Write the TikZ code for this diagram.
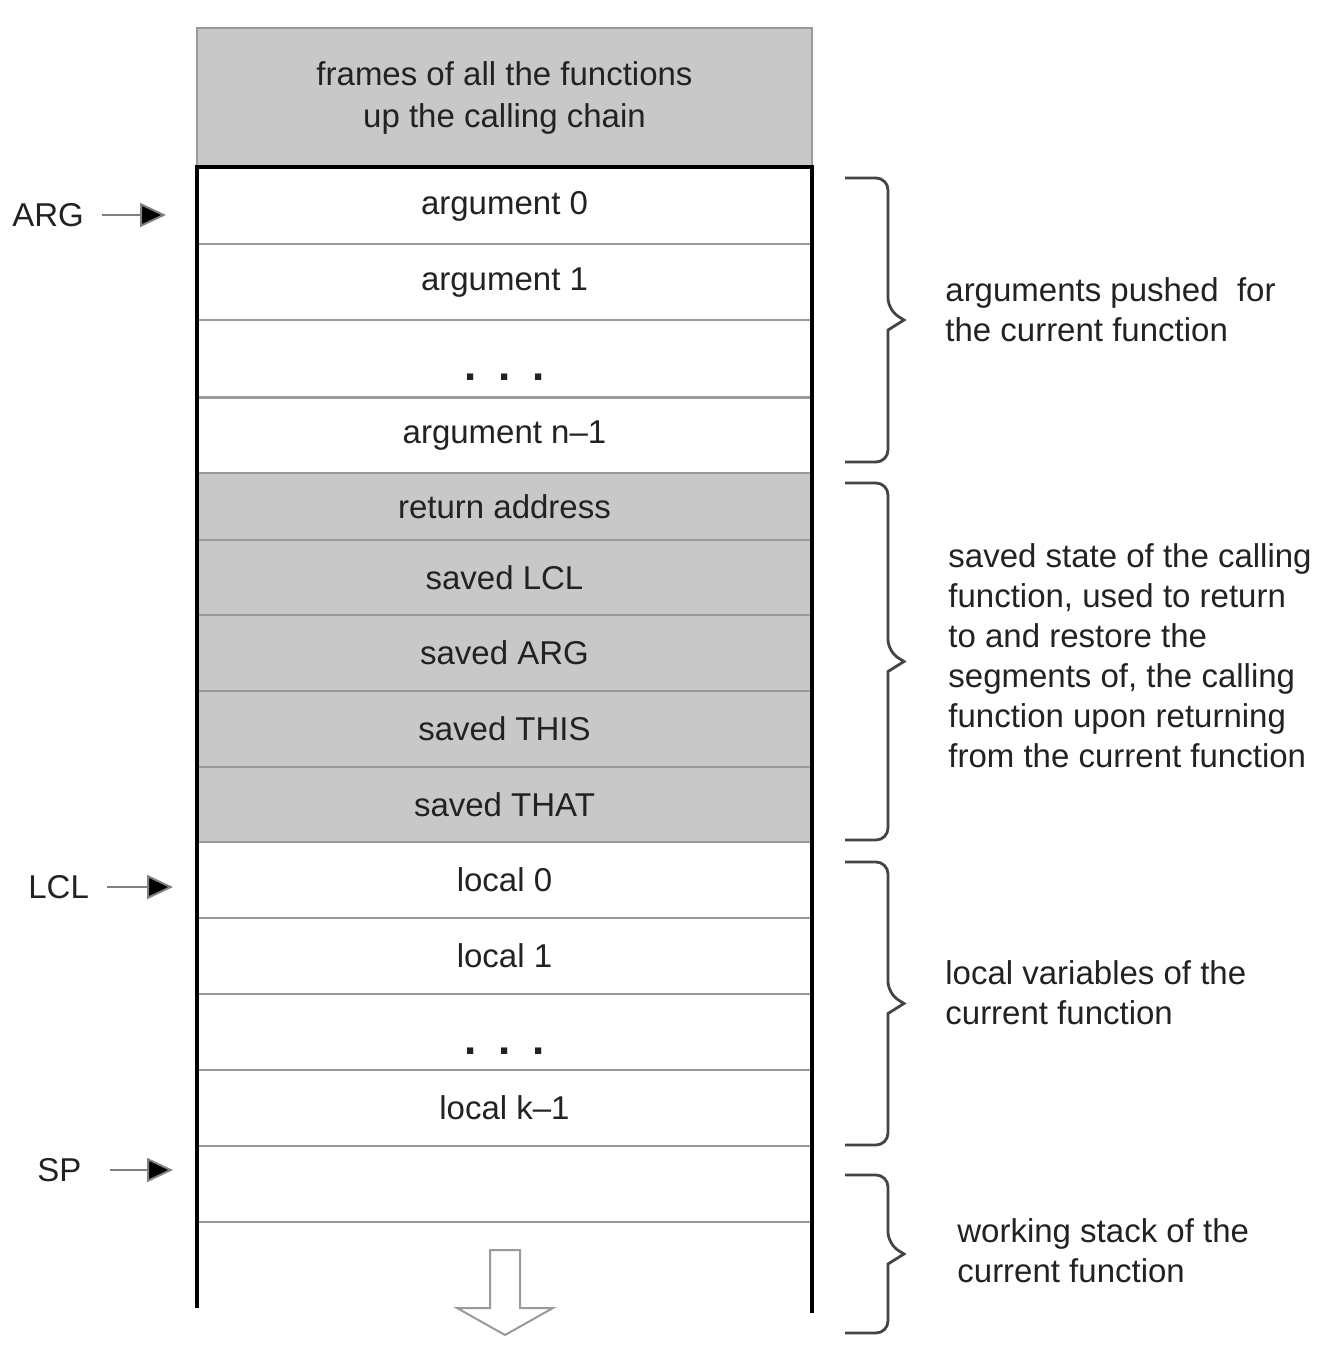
\documentclass[tikz,border=0pt]{standalone}
\usepackage{fontspec}
\setmainfont{Liberation Sans}
\usetikzlibrary{arrows.meta}
\definecolor{cellgray}{HTML}{C8C8C8}
\definecolor{sepgray}{HTML}{9A9A9A}
\definecolor{inkgray}{HTML}{222222}
\definecolor{bracegray}{HTML}{444444}
\tikzset{
  cell/.style={draw=sepgray, line width=1.2pt, minimum width=307.5pt, inner sep=0pt,
    text=inkgray, font=\fontsize{16.5}{20}\selectfont},
  wcell/.style={cell, fill=white},
  gcell/.style={cell, fill=cellgray},
  reglabel/.style={anchor=west, inner sep=0pt, text=inkgray, font=\fontsize{16.5}{20}\selectfont},
  note/.style={anchor=west, inner sep=0pt, align=left, text=inkgray, font=\fontsize{16.5}{20}\selectfont},
  ptr/.style={draw=gray, line width=1pt, -{Triangle[length=13pt,width=12pt,fill=black]}, shorten <=9pt},
  bracestyle/.style={draw=bracegray, line width=1.4pt, rounded corners=6pt},
  frame/.style={draw=black, line width=2.2pt},
}
\newcommand{\groupbrace}[2]{% top y, bottom y
  \pgfmathsetmacro{\bmid}{(#1+#2)/2}
  \draw[bracestyle] (845,#1) -- (888,#1) -- (888,\bmid-10) [sharp corners] -- (904,\bmid) -- (888,\bmid+10) [rounded corners=6pt] -- (888,#2) -- (845,#2);
}
\newcommand{\threedots}{\fontsize{22}{22}\selectfont\bfseries .\hspace{11pt}.\hspace{11pt}.}
\begin{document}
\begin{tikzpicture}[x=0.5pt,y=-0.5pt]
\useasboundingbox (0,0) rectangle (1338,1356);
% stack cells
\node[gcell, minimum height=69.5pt, align=center, font=\fontsize{16.5}{21}\selectfont] (top) at (504.5,97.5) {frames of all the functions\\up the calling chain};
\node[wcell, minimum height=38pt] (a0) at (504.5,206) {argument 0};
\node[wcell, minimum height=38.5pt] (a1) at (504.5,282.5) {argument 1};
\node[wcell, minimum height=38.5pt] (ad) at (504.5,358.5) {\raisebox{-11pt}[0pt][0pt]{\threedots}};
\node[wcell, minimum height=38pt] (an) at (504.5,436) {argument n–1};
\node[gcell, minimum height=33.5pt] (ra) at (504.5,506.5) {return address};
\node[gcell, minimum height=37.5pt] (sl) at (504.5,577.5) {saved LCL};
\node[gcell, minimum height=38pt] (sa) at (504.5,653) {saved ARG};
\node[gcell, minimum height=38pt] (st) at (504.5,729) {saved THIS};
\node[gcell, minimum height=37.5pt] (sh) at (504.5,804.5) {saved THAT};
\node[wcell, minimum height=38pt] (l0) at (504.5,880) {local 0};
\node[wcell, minimum height=38pt] (l1) at (504.5,956) {local 1};
\node[wcell, minimum height=38pt] (ld) at (504.5,1032) {\raisebox{-11pt}[0pt][0pt]{\threedots}};
\node[wcell, minimum height=38pt] (lk) at (504.5,1108) {local k–1};
\node[wcell, minimum height=38pt] (sp) at (504.5,1184) {};
% frame
\draw[frame] (197,1308) -- (197,167) -- (812,167) -- (812,1313);
% growth arrow
\draw[draw=sepgray, line width=1pt, fill=white, line join=miter]
  (490,1250) -- (520,1250) -- (520,1308) -- (553,1308) -- (505,1335) -- (457,1308) -- (490,1308) -- cycle;
% register pointers
\node[reglabel] (ARG) at (12,215) {ARG};
\coordinate (argtip) at (166,215);
\draw[ptr] (ARG.east) -- (argtip);
\node[reglabel] (LCL) at (28,887) {LCL};
\coordinate (lcltip) at (173,887);
\draw[ptr] (LCL.east) -- (lcltip);
\node[reglabel] (SP) at (37,1170) {SP};
\coordinate (sptip) at (173,1170);
\draw[ptr, shorten <=14pt] (SP.east) -- (sptip);
% braces
\groupbrace{178}{462}
\groupbrace{483}{840}
\groupbrace{862}{1145}
\groupbrace{1175}{1333}
% notes
\node[note] (n1) at (945,310) {arguments pushed\ \ for\\the current function};
\node[note] (n2) at (948,655.5) {saved state of the calling\\function, used to return\\to and restore the\\segments of, the calling\\function upon returning\\from the current function};
\node[note] (n3) at (945,992.5) {local variables of the\\current function};
\node[note] (n4) at (957,1250.5) {working stack of the\\current function};
\end{tikzpicture}
\end{document}
